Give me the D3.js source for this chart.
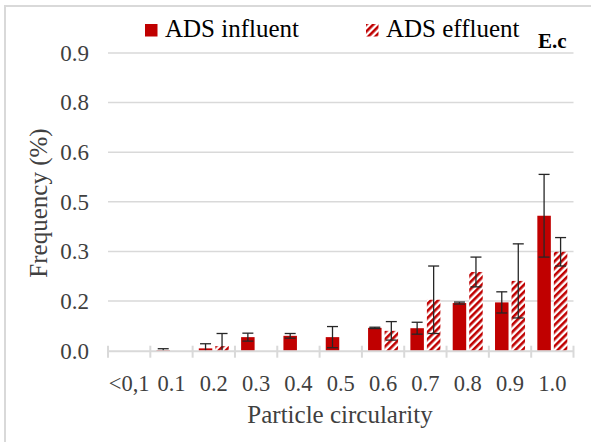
<!DOCTYPE html>
<html>
<head>
<meta charset="utf-8">
<script src="https://cdn.jsdelivr.net/npm/d3@7"></script>
<style>
  html, body { margin: 0; padding: 0; background: #fff; }
  svg { display: block; }
  svg text { font-family: "Liberation Serif", "Times New Roman", serif; }
</style>
</head>
<body>
<svg id="chart" width="591" height="442"></svg>
<script>
// Particle circularity classes and mean frequency (%) with standard deviations
const categories = ["<0,1", "0.1", "0.2", "0.3", "0.4", "0.5", "0.6", "0.7", "0.8", "0.9", "1.0"];
const influent    = [0, 0.002, 0.007, 0.041, 0.045, 0.041, 0.069, 0.068, 0.144, 0.146, 0.408];
const influentSd  = [0, 0.004, 0.014, 0.012, 0.007, 0.032, 0.002, 0.018, 0.003, 0.032, 0.125];
const effluent    = [0, 0, 0.014, 0, 0, 0, 0.060, 0.154, 0.238, 0.211, 0.299];
const effluentSd  = [0, 0, 0.038, 0, 0, 0, 0.028, 0.102, 0.045, 0.112, 0.043];
const seriesNames = ["ADS influent", "ADS effluent"];
const yTicks      = [0, 0.15, 0.3, 0.45, 0.6, 0.75, 0.9];
const yTickLabels = ["0.0", "0.2", "0.3", "0.5", "0.6", "0.8", "0.9"];

const red = "#C00000";
const grid = "#D9D9D9";
const serif = "'Liberation Serif', 'Times New Roman', serif";

const svg = d3.select("#chart");

// hatched fill for the effluent series
const defs = svg.append("defs");
const pat = defs.append("pattern")
  .attr("id", "hatch")
  .attr("patternUnits", "userSpaceOnUse")
  .attr("width", 5).attr("height", 5)
  .attr("patternTransform", "rotate(45)");
pat.append("rect").attr("width", 5).attr("height", 5).attr("fill", "#fff");
pat.append("rect").attr("x", 0).attr("y", 0).attr("width", 2.6).attr("height", 5).attr("fill", red);

// chart area frame
svg.append("path")
  .attr("d", "M5,442 V6 H591")
  .attr("fill", "none").attr("stroke", grid).attr("stroke-width", 2);

const plotLeft = 108, plotRight = 573.5, plotTop = 53, plotBottom = 350.7;

const x0 = d3.scaleBand().domain(categories).range([plotLeft, plotRight]).padding(0);
const x1 = d3.scaleBand().domain(seriesNames).range([0, x0.bandwidth()])
  .paddingInner(0.182).paddingOuter(0.373);
const y = d3.scaleLinear().domain([0, 0.9]).range([plotBottom, plotTop]);

// horizontal gridlines
svg.append("g").selectAll("line")
  .data(yTicks.filter(d => d > 0))
  .join("line")
  .attr("x1", plotLeft).attr("x2", plotRight)
  .attr("y1", d => y(d)).attr("y2", d => y(d))
  .attr("stroke", grid).attr("stroke-width", 1.5);

// y tick labels
const yAxis = d3.axisLeft(y).tickValues(yTicks)
  .tickFormat((d, i) => yTickLabels[i]).tickSize(0).tickPadding(0);
const gy = svg.append("g").attr("transform", `translate(${plotLeft - 19},0)`).call(yAxis);
gy.attr("font-family", null);
gy.select(".domain").remove();
gy.selectAll("text")
  .style("font-family", serif)
  .attr("font-size", 23).attr("fill", "#404040");

// bars
const rows = categories.map((c, i) => ({
  cat: c,
  vals: [
    { s: seriesNames[0], v: influent[i], sd: influentSd[i] },
    { s: seriesNames[1], v: effluent[i], sd: effluentSd[i] }
  ]
}));

const groups = svg.append("g").selectAll("g")
  .data(rows).join("g")
  .attr("transform", d => `translate(${x0(d.cat)},0)`);

groups.selectAll("rect")
  .data(d => d.vals.filter(e => e.v > 0))
  .join("rect")
  .attr("x", d => x1(d.s))
  .attr("width", x1.bandwidth())
  .attr("y", d => y(d.v))
  .attr("height", d => y(0) - y(d.v))
  .attr("fill", d => d.s === seriesNames[0] ? red : "url(#hatch)");

// x axis line with crossing tick marks at category boundaries
svg.append("line")
  .attr("x1", plotLeft).attr("x2", plotRight)
  .attr("y1", plotBottom + 0.5).attr("y2", plotBottom + 0.5)
  .attr("stroke", grid).attr("stroke-width", 2);
const boundaries = categories.map(c => x0(c)).concat([x0(categories[categories.length - 1]) + x0.bandwidth()]);
svg.append("g").selectAll("line")
  .data(boundaries).join("line")
  .attr("x1", d => d).attr("x2", d => d)
  .attr("y1", plotBottom - 5).attr("y2", plotBottom + 7)
  .attr("stroke", grid).attr("stroke-width", 2);

// error bars
const err = groups.selectAll("g.err")
  .data(d => d.vals.filter(e => e.sd > 0))
  .join("g").attr("class", "err")
  .attr("transform", d => `translate(${x1(d.s) + x1.bandwidth() / 2},0)`);
const cap = 5.5;
err.append("line")
  .attr("x1", 0).attr("x2", 0)
  .attr("y1", d => y(d.v + d.sd)).attr("y2", d => y(Math.max(0, d.v - d.sd)))
  .attr("stroke", "#262626").attr("stroke-width", 1.3);
err.append("line")
  .attr("x1", -cap).attr("x2", cap)
  .attr("y1", d => y(d.v + d.sd)).attr("y2", d => y(d.v + d.sd))
  .attr("stroke", "#262626").attr("stroke-width", 1.3);
err.filter(d => d.v - d.sd > 0.001).append("line")
  .attr("x1", -cap).attr("x2", cap)
  .attr("y1", d => y(d.v - d.sd)).attr("y2", d => y(d.v - d.sd))
  .attr("stroke", "#262626").attr("stroke-width", 1.3);

// x tick labels
svg.append("g").selectAll("text")
  .data(categories).join("text")
  .attr("x", d => x0(d) + x0.bandwidth() / 2)
  .attr("y", 391)
  .attr("text-anchor", "middle")
  .style("font-family", serif)
  .attr("font-size", 22.5).attr("fill", "#404040")
  .text(d => d);

// axis titles
svg.append("text")
  .attr("x", 340).attr("y", 423)
  .attr("text-anchor", "middle")
  .style("font-family", serif)
  .attr("font-size", 25).attr("fill", "#404040")
  .text("Particle circularity");
svg.append("text")
  .attr("transform", "translate(47,203) rotate(-90)")
  .attr("text-anchor", "middle")
  .style("font-family", serif)
  .attr("font-size", 25).attr("fill", "#404040")
  .text("Frequency (%)");

// legend
const legend = svg.append("g");
const legendX = [145, 366];
seriesNames.forEach((name, i) => {
  legend.append("rect")
    .attr("x", legendX[i]).attr("y", 24).attr("width", 12.5).attr("height", 12.5)
    .attr("fill", i === 0 ? red : "url(#hatch)");
  legend.append("text")
    .attr("x", legendX[i] + 20).attr("y", 37)
    .style("font-family", serif)
    .attr("font-size", 25).attr("fill", "#000")
    .text(name);
});

// panel label
svg.append("text")
  .attr("x", 538).attr("y", 48)
  .style("font-family", serif)
  .attr("font-size", 21).attr("font-weight", "bold").attr("fill", "#000")
  .text("E.c");
</script>
</body>
</html>
